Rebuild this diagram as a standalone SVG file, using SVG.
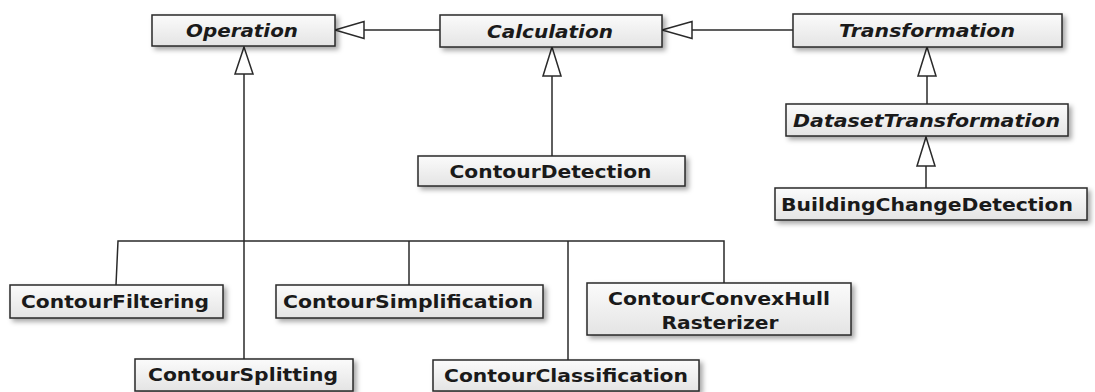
<svg xmlns="http://www.w3.org/2000/svg" width="1095" height="392" viewBox="0 0 1095 392">
<style>
.box{fill:url(#g);stroke:#2a2a2a;stroke-width:1.5;filter:url(#sh)}
.t{font-family:"DejaVu Sans",sans-serif;font-weight:bold;font-size:18px;fill:#1a1a1a;text-anchor:middle}
.a{font-style:italic}
.c{fill:none;stroke:#2a2a2a;stroke-width:1.5}
.h{fill:#fff;stroke:#2a2a2a;stroke-width:1.5;stroke-linejoin:miter}
</style>
<defs>
<linearGradient id="g" x1="0" y1="0" x2="0" y2="1">
<stop offset="0" stop-color="#fbfbfb"/>
<stop offset="1" stop-color="#e4e4e4"/>
</linearGradient>
<filter id="sh" x="-10%" y="-20%" width="130%" height="160%">
<feDropShadow dx="3" dy="3" stdDeviation="2.5" flood-color="#000" flood-opacity="0.35"/>
</filter>
</defs>
<rect width="1095" height="392" fill="#fff"/>
<g id="connectors">
<path class="c" d="M440 30H364"/>
<path class="h" d="M335 30L364 21.5V38.5Z"/>
<path class="c" d="M793 30H692"/>
<path class="h" d="M662 30L692 21.5V38.5Z"/>
<path class="c" d="M244 74V359"/>
<path class="h" d="M244 47L235 74H253Z"/>
<path class="c" d="M552 76V156"/>
<path class="h" d="M552 47L543 76H561Z"/>
<path class="c" d="M927 76V104"/>
<path class="h" d="M927 47L918 76H936Z"/>
<path class="c" d="M926 166V188"/>
<path class="h" d="M926 137L917 166H935Z"/>
<path class="c" d="M116 285L118 241H724V283"/>
<path class="c" d="M409 241V285"/>
<path class="c" d="M568 241V360"/>
</g>
<g id="Operation"><rect class="box" x="152" y="15" width="183" height="31"/><text class="t a" x="242" y="37" textLength="112" lengthAdjust="spacingAndGlyphs">Operation</text></g>
<g id="Calculation"><rect class="box" x="440" y="15" width="222" height="32"/><text class="t a" x="550" y="37.5" textLength="126" lengthAdjust="spacingAndGlyphs">Calculation</text></g>
<g id="Transformation"><rect class="box" x="793" y="14" width="269" height="33"/><text class="t a" x="927" y="37" textLength="176" lengthAdjust="spacingAndGlyphs">Transformation</text></g>
<g id="DatasetTransformation"><rect class="box" x="786" y="104" width="282" height="32"/><text class="t a" x="926.5" y="126.5" textLength="267" lengthAdjust="spacingAndGlyphs">DatasetTransformation</text></g>
<g id="BuildingChangeDetection"><rect class="box" x="775" y="188" width="312" height="32"/><text class="t" x="927" y="210.5" textLength="292" lengthAdjust="spacingAndGlyphs">BuildingChangeDetection</text></g>
<g id="ContourDetection"><rect class="box" x="418" y="156" width="267" height="30"/><text class="t" x="550.5" y="177.5" textLength="202" lengthAdjust="spacingAndGlyphs">ContourDetection</text></g>
<g id="ContourFiltering"><rect class="box" x="10" y="285" width="213" height="33"/><text class="t" x="115" y="308" textLength="188" lengthAdjust="spacingAndGlyphs">ContourFiltering</text></g>
<g id="ContourSimplification"><rect class="box" x="276" y="285" width="267" height="33"/><text class="t" x="408" y="308" textLength="250" lengthAdjust="spacingAndGlyphs">ContourSimplification</text></g>
<g id="ContourConvexHullRasterizer"><rect class="box" x="587" y="283" width="264" height="52"/><text class="t" x="719" y="305" textLength="222" lengthAdjust="spacingAndGlyphs">ContourConvexHull</text><text class="t" x="720" y="329" textLength="117" lengthAdjust="spacingAndGlyphs">Rasterizer</text></g>
<g id="ContourSplitting"><rect class="box" x="135" y="359" width="218" height="32"/><text class="t" x="243" y="381" textLength="190" lengthAdjust="spacingAndGlyphs">ContourSplitting</text></g>
<g id="ContourClassification"><rect class="box" x="433" y="360" width="266" height="31"/><text class="t" x="566" y="381.5" textLength="244" lengthAdjust="spacingAndGlyphs">ContourClassification</text></g>
</svg>
